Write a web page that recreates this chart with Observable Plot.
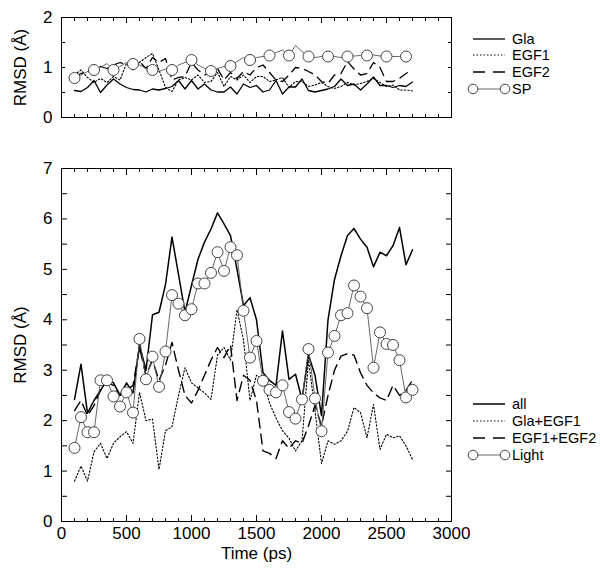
<!DOCTYPE html>
<html><head><meta charset="utf-8">
<script src="https://cdn.jsdelivr.net/npm/d3@7"></script>
<script src="https://cdn.jsdelivr.net/npm/@observablehq/plot@0.6"></script>
<style>
body{margin:0;background:#fff;}
#wrap{position:relative;width:600px;height:573px;font-family:"Liberation Sans",Arial,Helvetica,sans-serif;overflow:hidden;}
#wrap svg{position:absolute;left:0;overflow:visible;}
</style></head><body><div id="wrap"></div>
<script>
// time (ps)
const times = [100,150,200,250,300,350,400,450,500,550,600,650,700,750,800,850,900,950,1000,1050,
  1100,1150,1200,1250,1300,1350,1400,1450,1500,1550,1600,1650,1700,1750,1800,1850,1900,1950,2000,2050,
  2100,2150,2200,2250,2300,2350,2400,2450,2500,2550,2600,2650,2700];

// top panel series
const glaV = [0.54,0.52,0.6,0.74,0.5,0.65,0.77,0.67,0.6,0.56, 0.55,0.51,0.57,0.55,0.58,0.62,0.74,0.57,0.74,0.57,
  0.67,0.55,0.51,0.51,0.61,0.47,0.67,0.6,0.64,0.51, 0.55,0.74,0.47,0.61,0.61,0.77,0.54,0.51,0.54,0.57,
  0.62,0.77,0.64,0.67,0.55,0.67,0.81,0.64,0.64,0.6, 0.64,0.62,0.71];
const egf1V = [0.85,0.95,0.8,0.7,0.78,0.7,0.82,0.75,1.08,0.95, 1.1,1.2,1.28,0.95,0.6,0.52,0.75,0.8,0.75,0.85,
  0.7,0.72,0.9,0.62,0.82,0.75,0.85,0.7,0.82,0.82, 0.72,0.75,0.8,0.6,0.72,0.72,0.62,0.65,0.7,0.62,
  0.58,0.62,0.7,0.65,0.68,0.72,0.78,0.7,0.62,0.65, 0.55,0.55,0.53];
const egf2V = [0.82,0.88,0.9,1.05,1.02,0.98,1.05,1.1,1.05,1.08, 1.12,0.98,1.2,1.1,1.18,0.75,0.8,0.82,1.1,0.95,
  0.85,0.9,0.98,0.75,0.9,0.78,0.92,0.85,1.0,1.05, 0.9,0.75,0.72,0.85,1.0,0.98,0.92,0.85,0.72,0.68,
  0.85,0.88,1.12,0.97,0.85,0.88,1.1,1.0,0.72,0.72, 0.78,0.88,0.95];
const spV = [0.79,0.85,0.92,0.95,1.0,1.08,0.95,1.02,1.1,1.07, 1.05,0.98,0.95,0.92,0.97,0.95,1.05,1.1,1.15,1.05,
  0.98,0.93,0.98,1.02,1.03,1.12,1.2,1.15,1.2,1.22, 1.24,1.3,1.35,1.24,1.44,1.32,1.22,1.2,1.22,1.22,
  1.22,1.2,1.22,1.23,1.24,1.24,1.25,1.23,1.22,1.22, 1.22,1.22];

// bottom panel series
const allV = [2.42,3.12,2.15,2.4,2.6,2.8,2.75,2.5,2.75,2.55, 3.5,3.0,4.1,4.15,4.7,5.64,4.9,4.15,4.68,5.2,
  5.54,5.8,6.12,5.9,5.67,5.0,4.28,4.44,4.0,2.95, 2.8,2.7,3.78,2.82,2.92,2.42,3.3,2.9,2.1,4.0,
  4.8,5.27,5.67,5.81,5.6,5.44,5.05,5.34,5.27,5.47, 5.83,5.09,5.39];
const glaEgf1V = [0.8,1.1,0.8,1.38,1.55,1.25,1.55,1.68,1.78,1.55, 2.56,2.0,2.03,1.03,1.8,1.88,2.5,3.05,2.75,2.65,
  2.55,2.42,3.3,3.45,3.2,4.2,3.6,2.4,2.9,2.8, 2.35,2.05,1.8,1.65,1.4,1.6,3.2,2.2,1.15,1.6,
  1.53,1.6,1.79,2.26,2.16,1.66,2.32,1.43,1.73,1.66, 1.7,1.5,1.23];
const egf1Egf2V = [2.2,2.4,2.1,2.3,2.6,2.75,2.7,2.5,2.6,2.7, 3.45,2.9,3.2,2.8,3.1,3.55,3.0,2.5,2.35,2.6,
  2.9,3.2,3.45,3.25,3.5,2.4,2.9,2.8,2.4,1.4, 1.35,1.25,1.6,1.45,1.6,1.55,1.9,2.3,1.9,2.5,
  3.0,3.28,3.33,3.3,2.95,2.7,2.55,2.45,2.4,2.7, 2.5,2.6,2.8];
const lightV = [1.46,2.07,1.77,1.77,2.8,2.8,2.48,2.28,2.56,2.16, 3.62,2.82,3.27,2.67,3.37,4.49,4.32,4.09,4.21,4.72,
  4.72,4.93,5.34,4.97,5.44,5.28,4.18,3.25,3.58,2.79, 2.61,2.56,2.70,2.17,2.04,2.42,3.42,2.44,1.79,3.35,
  3.68,4.09,4.13,4.68,4.46,4.23,3.05,3.75,3.52,3.5, 3.2,2.46,2.61];

// ticks
const xMajor = [0,500,1000,1500,2000,2500,3000];
const xMinor = [100,200,300,400,600,700,800,900,1100,1200,1300,1400,1600,1700,1800,1900,2100,2200,2300,2400,2600,2700,2800,2900];
const yTopTicks = [0,0.5,1,1.5,2];
const yTopLabels = [0,1,2];
const yBotTicks = [0,0.5,1,1.5,2,2.5,3,3.5,4,4.5,5,5.5,6,6.5,7];
const yBotLabels = [0,1,2,3,4,5,6,7];

const topLegend = ["Gla","EGF1","EGF2","SP"];
const botLegend = ["all","Gla+EGF1","EGF1+EGF2","Light"];
const yLabel = "RMSD (Å)";
const xLabel = "Time (ps)";

const FONT = '"Liberation Sans", Arial, Helvetica, sans-serif';
const rows = (vals) => vals.map((v, i) => ({t: times[i], v}));

function tickMarks(yTicks, ySize, xMaj, xMin) {
  return [
    Plot.axisX(xMajor, {anchor: "bottom", tickSize: xMaj, dy: -xMaj, tickFormat: () => "", stroke: "black"}),
    Plot.axisX(xMinor, {anchor: "bottom", tickSize: xMin, dy: -xMin, tickFormat: () => "", stroke: "black"}),
    Plot.axisX(xMajor, {anchor: "top", tickSize: xMaj, dy: xMaj, tickFormat: () => "", stroke: "black"}),
    Plot.axisX(xMinor, {anchor: "top", tickSize: xMin, dy: xMin, tickFormat: () => "", stroke: "black"}),
    Plot.axisY(yTicks, {anchor: "left", tickSize: ySize, dx: ySize, tickFormat: () => "", stroke: "black"}),
    Plot.axisY(yTicks, {anchor: "right", tickSize: ySize, dx: -ySize, tickFormat: () => "", stroke: "black"})
  ];
}

const wrap = document.getElementById("wrap");

// ---------- top panel ----------
const spRows = spV.map((v, i) => ({t: times[i], v}));
const topPlot = Plot.plot({
  width: 600, height: 135,
  marginLeft: 61, marginRight: 149, marginTop: 17, marginBottom: 18,
  style: {fontFamily: FONT, fontSize: "17px", color: "black", background: "transparent"},
  x: {domain: [0, 3000], label: null},
  y: {domain: [0, 2], label: null},
  marks: [
    Plot.line(rows(glaV), {x: "t", y: "v", stroke: "black", strokeWidth: 1.3}),
    Plot.line(rows(egf1V), {x: "t", y: "v", stroke: "black", strokeWidth: 1.1, strokeDasharray: "1.5,2"}),
    Plot.line(rows(egf2V), {x: "t", y: "v", stroke: "black", strokeWidth: 1.3, strokeDasharray: "9,6"}),
    Plot.line(spRows, {x: "t", y: "v", stroke: "#555", strokeWidth: 0.9}),
    Plot.dot(spRows.filter((d, i) => i % 3 === 0), {x: "t", y: "v", r: 5.5, fill: "white", stroke: "#444", strokeWidth: 1}),
    Plot.frame({stroke: "black", strokeWidth: 1}),
    ...tickMarks(yTopTicks, 4, 5, 3),
    Plot.axisY(yTopLabels, {anchor: "left", tickSize: 0, tickPadding: 9, fontSize: 17, tickFormat: d => String(d)}),
    Plot.text([yLabel], {text: d => d, frameAnchor: "left", dx: -41, rotate: -90, fontSize: 17, textAnchor: "middle", lineAnchor: "middle"})
  ]
});
topPlot.style.top = "0px";
wrap.appendChild(topPlot);

// ---------- bottom panel ----------
const lightRows = rows(lightV);
const botPlot = Plot.plot({
  width: 600, height: 433,
  marginLeft: 61, marginRight: 149, marginTop: 28, marginBottom: 52,
  style: {fontFamily: FONT, fontSize: "17px", color: "black", background: "transparent"},
  x: {domain: [0, 3000], label: null},
  y: {domain: [0, 7], label: null},
  marks: [
    Plot.line(rows(glaEgf1V), {x: "t", y: "v", stroke: "black", strokeWidth: 1.1, strokeDasharray: "1.5,2"}),
    Plot.line(rows(egf1Egf2V), {x: "t", y: "v", stroke: "black", strokeWidth: 1.4, strokeDasharray: "10,6"}),
    Plot.line(rows(allV), {x: "t", y: "v", stroke: "black", strokeWidth: 1.5}),
    Plot.line(lightRows, {x: "t", y: "v", stroke: "#555", strokeWidth: 0.9}),
    Plot.dot(lightRows, {x: "t", y: "v", r: 5.5, fill: "white", stroke: "#444", strokeWidth: 1}),
    Plot.frame({stroke: "black", strokeWidth: 1}),
    ...tickMarks(yBotTicks, 6, 6, 3),
    Plot.axisY(yBotLabels, {anchor: "left", tickSize: 0, tickPadding: 9, fontSize: 17, tickFormat: d => String(d)}),
    Plot.axisX(xMajor, {anchor: "bottom", tickSize: 0, tickPadding: 5, fontSize: 17, tickFormat: d => String(d)}),
    Plot.text([yLabel], {text: d => d, frameAnchor: "left", dx: -41, rotate: -90, fontSize: 17, textAnchor: "middle", lineAnchor: "middle"}),
    Plot.text([xLabel], {text: d => d, frameAnchor: "bottom", dy: 32, fontSize: 17, textAnchor: "middle", lineAnchor: "middle"})
  ]
});
botPlot.style.top = "140px";
wrap.appendChild(botPlot);

// ---------- legends ----------
const leg = d3.select(wrap).append("svg")
  .attr("width", 600).attr("height", 573)
  .style("top", "0px").style("pointer-events", "none")
  .attr("font-family", FONT).attr("font-size", 14.5);

function drawLegend(labels, ys, styles) {
  labels.forEach((lab, i) => {
    const s = styles[i];
    const y = ys[i];
    leg.append("line").attr("x1", 473).attr("x2", 505).attr("y1", y).attr("y2", y)
      .attr("stroke", s.stroke).attr("stroke-width", s.w).attr("stroke-dasharray", s.dash || null);
    if (s.circle) {
      [473, 505].forEach(cx => leg.append("circle").attr("cx", cx).attr("cy", y).attr("r", 4.8)
        .attr("fill", "white").attr("stroke", "#444"));
    }
    leg.append("text").attr("x", 512).attr("y", y).attr("dy", "0.35em").text(lab);
  });
}
drawLegend(topLegend, [39, 55, 72, 89], [
  {stroke: "black", w: 1.3},
  {stroke: "black", w: 1.1, dash: "1.5,2"},
  {stroke: "black", w: 1.3, dash: "12,8"},
  {stroke: "#555", w: 0.9, circle: true}
]);
drawLegend(botLegend, [404, 421, 438, 455], [
  {stroke: "black", w: 1.5},
  {stroke: "black", w: 1.1, dash: "1.5,2"},
  {stroke: "black", w: 1.4, dash: "12,8"},
  {stroke: "#555", w: 0.9, circle: true}
]);
</script></body></html>
